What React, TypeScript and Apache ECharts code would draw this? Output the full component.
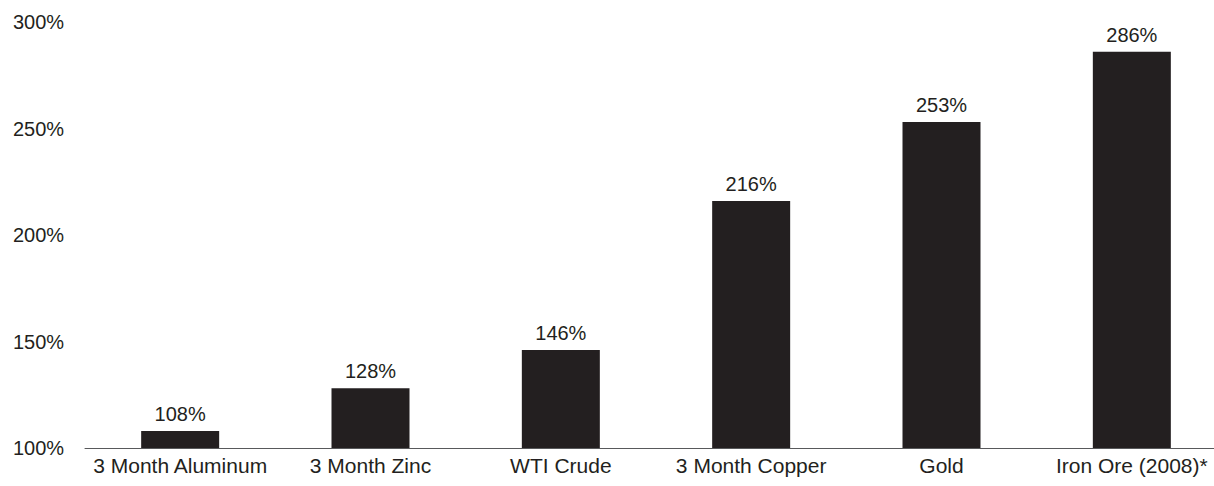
import React, { useEffect, useRef } from "react";
import * as echarts from "echarts";

const categories = [
  "3 Month Aluminum",
  "3 Month Zinc",
  "WTI Crude",
  "3 Month Copper",
  "Gold",
  "Iron Ore (2008)*",
];
const values = [108, 128, 146, 216, 253, 286];
const yTicks = [100, 150, 200, 250, 300];

const INK = "#231f20";
const FONT = "'Liberation Sans', Arial, Helvetica, sans-serif";

export default function App() {
  const ref = useRef<HTMLDivElement>(null);

  useEffect(() => {
    if (!ref.current) return;
    const chart = echarts.init(ref.current, null, { renderer: "svg" });
    chart.setOption({
      animation: false,
      backgroundColor: "#ffffff",
      grid: { left: 85, right: 0, top: 22, bottom: 38 },
      xAxis: {
        type: "category",
        data: categories,
        axisLine: { show: true, lineStyle: { color: "#58595b", width: 1 } },
        axisTick: { show: false },
        axisLabel: {
          color: INK,
          fontFamily: FONT,
          fontSize: 21,
          margin: 7,
          interval: 0,
        },
      },
      yAxis: {
        type: "value",
        min: yTicks[0],
        max: yTicks[yTicks.length - 1],
        interval: 50,
        splitLine: { show: false },
        axisLine: { show: false },
        axisTick: { show: false },
        axisLabel: {
          color: INK,
          fontFamily: FONT,
          fontSize: 20,
          align: "left",
          margin: 72,
          padding: [4, 0, 0, 0],
          formatter: (v: number) => `${v}%`,
        },
      },
      series: [
        {
          type: "bar",
          data: values,
          barWidth: 78,
          itemStyle: { color: INK },
          label: {
            show: true,
            position: "top",
            distance: 7,
            color: INK,
            fontFamily: FONT,
            fontSize: 20,
            formatter: (p: any) => `${p.value}%`,
          },
        },
      ],
    });
    return () => chart.dispose();
  }, []);

  return (
    <div
      style={{
        position: "absolute",
        left: 0,
        top: 0,
        width: 1214,
        height: 486,
        overflow: "hidden",
        background: "#ffffff",
      }}
    >
      <div ref={ref} style={{ width: 1227, height: 486 }} />
    </div>
  );
}
